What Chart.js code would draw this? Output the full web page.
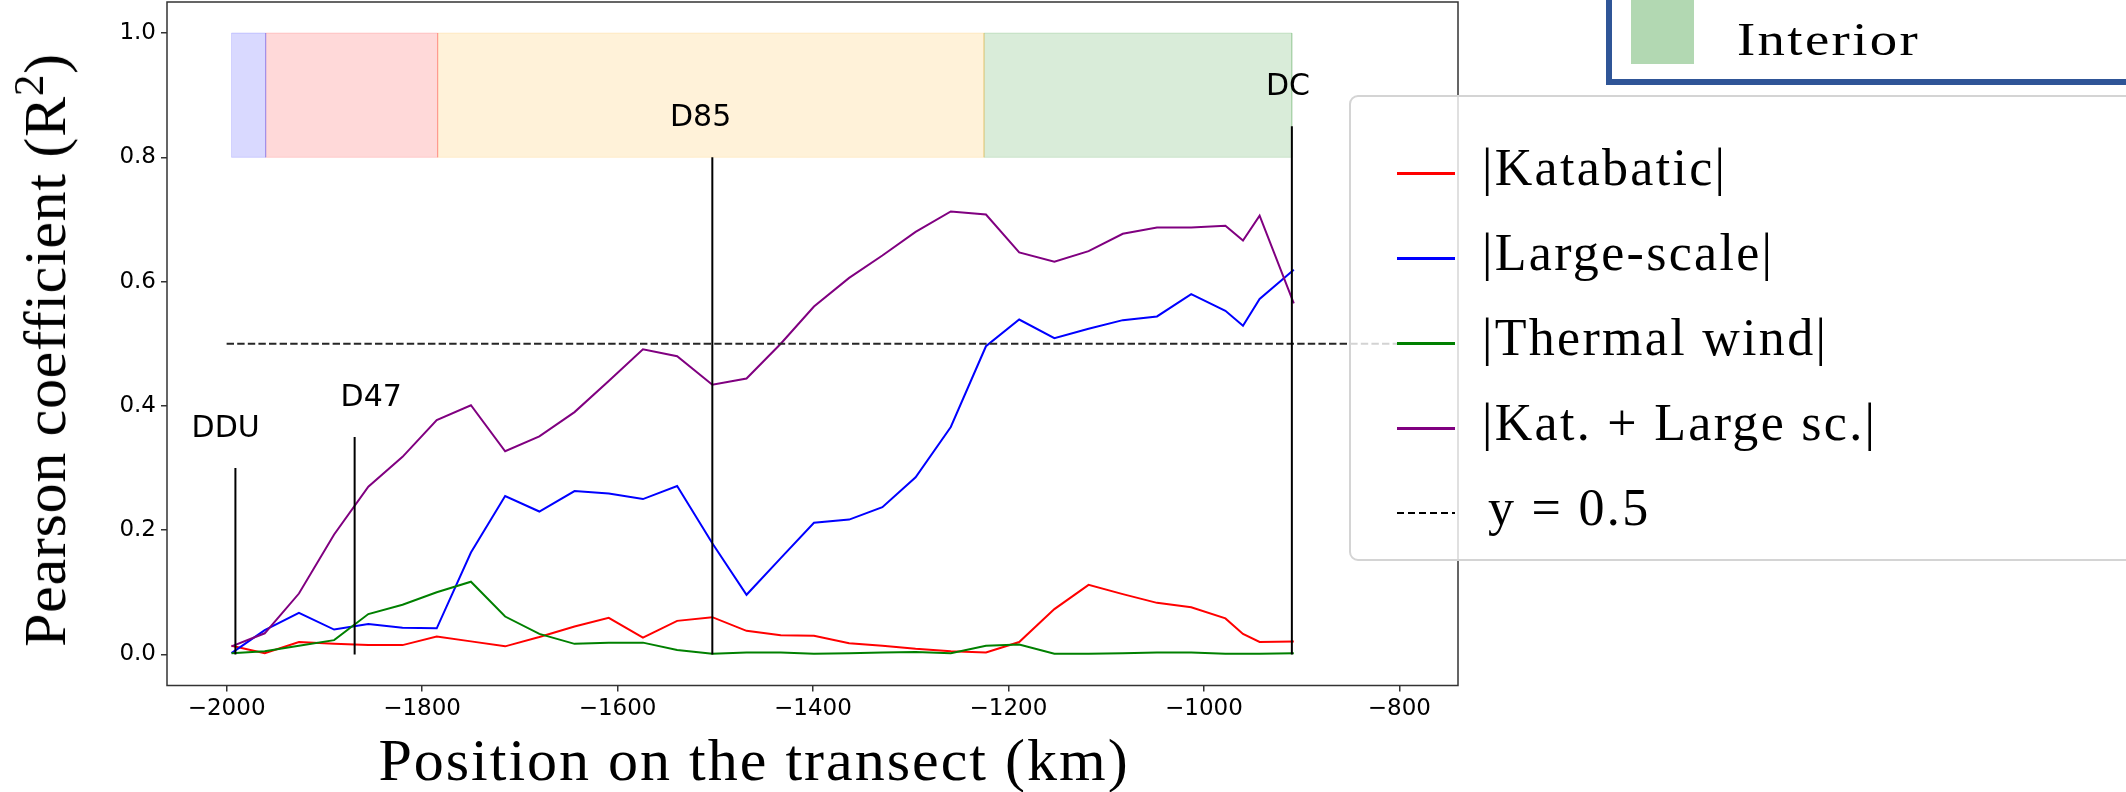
<!DOCTYPE html>
<html>
<head>
<meta charset="utf-8">
<script src="https://cdn.jsdelivr.net/npm/chart.js@4.4.0/dist/chart.umd.min.js"></script>
<style>
html,body{margin:0;padding:0;background:#fff;}
body{width:2126px;height:792px;position:relative;overflow:hidden;font-family:"Liberation Serif",serif;color:#000;}
#wrap{position:absolute;left:0;top:0;width:1470px;height:792px;}
.abs{position:absolute;white-space:nowrap;line-height:1;}
.sup{font-size:0.72em;vertical-align:0.5em;line-height:0;}
</style>
</head>
<body>
<div id="wrap"><canvas id="c" width="1470" height="792"></canvas></div>
<script>
// ---- data ----
const xKm = [-1995,-1961,-1926,-1890,-1855,-1820,-1785,-1750,-1715,-1680,-1644,-1609,-1574,-1539,-1503,-1468,-1433,-1399,-1363,-1329,-1295,-1259,-1223,-1189,-1153,-1118,-1083,-1048,-1013,-978,-960,-943,-908];
const katabatic   = [0.014,0.002,0.020,0.017,0.015,0.015,0.029,0.021,0.013,0.028,0.045,0.059,0.027,0.054,0.060,0.038,0.031,0.030,0.018,0.014,0.009,0.005,0.003,0.020,0.073,0.112,0.097,0.083,0.076,0.058,0.033,0.020,0.021];
const largeScale  = [0.002,0.039,0.067,0.040,0.049,0.043,0.042,0.164,0.255,0.230,0.263,0.259,0.250,0.271,0.179,0.096,0.155,0.212,0.217,0.237,0.285,0.366,0.496,0.539,0.509,0.524,0.538,0.544,0.580,0.553,0.529,0.572,0.619];
const thermalWind = [0.002,0.005,0.014,0.023,0.065,0.080,0.100,0.117,0.061,0.033,0.017,0.019,0.019,0.007,0.001,0.003,0.003,0.001,0.002,0.003,0.004,0.002,0.014,0.016,0.001,0.001,0.002,0.003,0.003,0.001,0.001,0.001,0.002];
const katLarge    = [0.013,0.034,0.098,0.193,0.270,0.318,0.377,0.401,0.327,0.351,0.390,0.440,0.491,0.480,0.434,0.444,0.500,0.560,0.606,0.642,0.680,0.713,0.708,0.647,0.632,0.649,0.677,0.687,0.687,0.690,0.666,0.706,0.565];
const seriesLabels = ['|Katabatic|','|Large-scale|','|Thermal wind|','|Kat. + Large sc.|'];
const thresholdLabel = 'y = 0.5';
const thresholdY = 0.5;
const thresholdFrom = -2000, thresholdTo = -800;
const xTicks = [-2000,-1800,-1600,-1400,-1200,-1000,-800];
const yTicks = [0.0,0.2,0.4,0.6,0.8,1.0];
const zoneStart = [-1995,-1960,-1784,-1225];
const zoneEnd   = [-1960,-1784,-1225,-910];
const zoneBottom = 0.8, zoneTop = 1.0;
const stationNames = ['DDU','D47','D85','DC'];
const stationX   = [-1991,-1869,-1503,-910];
const stationTop = [0.30,0.35,0.80,0.85];
const stationLabelX = [-2001,-1852,-1515,-914];
const stationLabelY = [0.35,0.40,0.85,0.90];

// ---- styles ----
const seriesColors = ['#ff0000','#0000ff','#008000','#800080'];
const zoneFill = ['rgba(0,0,255,0.15)','rgba(255,0,0,0.15)','rgba(255,165,0,0.15)','rgba(0,128,0,0.15)'];

const pts = ys => xKm.map((x,i)=>({x:x,y:ys[i]}));
const datasets = [];
zoneStart.forEach((s,i)=>{
  datasets.push({data:[{x:s,y:zoneTop},{x:zoneEnd[i],y:zoneTop}], fill:{value:zoneBottom}, backgroundColor:zoneFill[i], borderWidth:0, pointRadius:0, order:20});
  datasets.push({data:[{x:s,y:zoneBottom},{x:s,y:zoneTop},{x:zoneEnd[i],y:zoneTop},{x:zoneEnd[i],y:zoneBottom},{x:s,y:zoneBottom}], fill:false, borderColor:zoneFill[i], borderWidth:1, pointRadius:0, order:19});
});
[katabatic,largeScale,thermalWind,katLarge].forEach((ys,i)=>{
  datasets.push({label:seriesLabels[i], data:pts(ys), borderColor:seriesColors[i], borderWidth:2, fill:false, pointRadius:0, order:5-i});
});
datasets.push({label:thresholdLabel, data:[{x:thresholdFrom,y:thresholdY},{x:thresholdTo,y:thresholdY}], borderColor:'#262626', borderWidth:2, borderDash:[7.4,3.2], fill:false, pointRadius:0, order:0});
stationX.forEach((x,i)=>{
  datasets.push({data:[{x:x,y:0},{x:x,y:stationTop[i]}], borderColor:'#000', borderWidth:2, fill:false, pointRadius:0, order:-1});
});

const framePlugin = {
  id:'frame',
  afterDatasetsDraw(chart){
    const a = chart.chartArea, c = chart.ctx;
    c.save(); c.strokeStyle='#333'; c.lineWidth=1.5;
    c.strokeRect(a.left, a.top, a.right-a.left, a.bottom-a.top);
    c.restore();
  }
};
const stationLabelPlugin = {
  id:'stationLabels',
  afterDatasetsDraw(chart){
    const c = chart.ctx, xs = chart.scales.x, ys = chart.scales.y;
    c.save(); c.font='30px "DejaVu Sans"'; c.fillStyle='#000'; c.textAlign='center'; c.textBaseline='alphabetic';
    stationNames.forEach((n,i)=>{ c.fillText(n, xs.getPixelForValue(stationLabelX[i]), ys.getPixelForValue(stationLabelY[i])); });
    c.restore();
  }
};

new Chart(document.getElementById('c'), {
  type:'line',
  data:{datasets:datasets},
  options:{
    responsive:false, animation:false, devicePixelRatio:1,
    layout:{padding:{left:0, top:2, right:12, bottom:46.5}},
    plugins:{legend:{display:false}, tooltip:{enabled:false}},
    elements:{line:{tension:0}, point:{radius:0}},
    scales:{
      x:{type:'linear', min:-2061, max:-740,
        afterBuildTicks:s=>{s.ticks = xTicks.map(v=>({value:v}));},
        afterFit:s=>{s.height=60; s.paddingLeft=0; s.paddingRight=0;},
        border:{display:false},
        grid:{drawOnChartArea:false, drawTicks:true, tickLength:6, color:'#333', lineWidth:1.5},
        ticks:{font:{family:'DejaVu Sans', size:23}, color:'#000', padding:4, maxRotation:0, autoSkip:false,
          callback:v=> v<0 ? '\u2212'+Math.abs(v) : String(v)}
      },
      y:{type:'linear', min:-0.05, max:1.05,
        afterBuildTicks:s=>{s.ticks = yTicks.map(v=>({value:v}));},
        afterFit:s=>{s.width=167; s.paddingTop=0; s.paddingBottom=0;},
        border:{display:false},
        grid:{drawOnChartArea:false, drawTicks:true, tickLength:6, color:'#333', lineWidth:1.5},
        ticks:{font:{family:'DejaVu Sans', size:23}, color:'#000', padding:5, autoSkip:false,
          callback:v=> Number(v).toFixed(1)}
      }
    }
  },
  plugins:[framePlugin, stationLabelPlugin]
});

// ---- text / legend overlays ----
function addDiv(style, text, html){
  const d = document.createElement('div'); d.className='abs';
  Object.assign(d.style, style);
  if(html!==undefined) d.innerHTML=html; else if(text!==undefined) d.textContent=text;
  document.body.appendChild(d); return d;
}
// axis titles
addDiv({left:'754px', top:'729.7px', fontSize:'60px', letterSpacing:'2px', transform:'translateX(-50%)'}, 'Position on the transect (km)');
addDiv({left:'44.7px', top:'350px', fontSize:'60px', letterSpacing:'0.7px', transform:'translate(-50%,-50%) rotate(-90deg)'}, null, 'Pearson coefficient (R<span class="sup">2</span>)');

// "Interior" box (partial, from neighbouring legend)
addDiv({left:'1606px', top:'-30px', width:'700px', height:'115px', border:'6px solid #2f5597', boxSizing:'border-box'});
addDiv({left:'1631px', top:'-10px', width:'63px', height:'74px', background:'#b2d8b2'});
addDiv({left:'1737px', top:'16.5px', fontSize:'46px', letterSpacing:'2px', transform:'scaleX(1.19)', transformOrigin:'0 0'}, 'Interior');

// main legend
addDiv({left:'1348.5px', top:'95px', width:'900px', height:'466px', border:'2px solid #d4d4d4', borderRadius:'9px', background:'rgba(255,255,255,0.8)', boxSizing:'border-box'});
const legendY = [173.3, 258.3, 343.3, 428.3, 513.3];
const legendLabels = seriesLabels.concat([thresholdLabel]);
legendLabels.forEach((lab,i)=>{
  const y = legendY[i];
  if(i<4){
    addDiv({left:'1396.5px', top:(y-1.25)+'px', width:'58.5px', height:'2.5px', background:seriesColors[i]});
  } else {
    addDiv({left:'1396.5px', top:(y-1)+'px', width:'58.5px', height:'2px', background:'repeating-linear-gradient(to right, #000 0 7.4px, transparent 7.4px 11px)'});
  }
  addDiv({left:(i<4?1482:1488)+'px', top:(y+11.7-43.5)+'px', fontSize:'52px', letterSpacing:'2.3px'}, lab);
});
</script>
</body>
</html>
